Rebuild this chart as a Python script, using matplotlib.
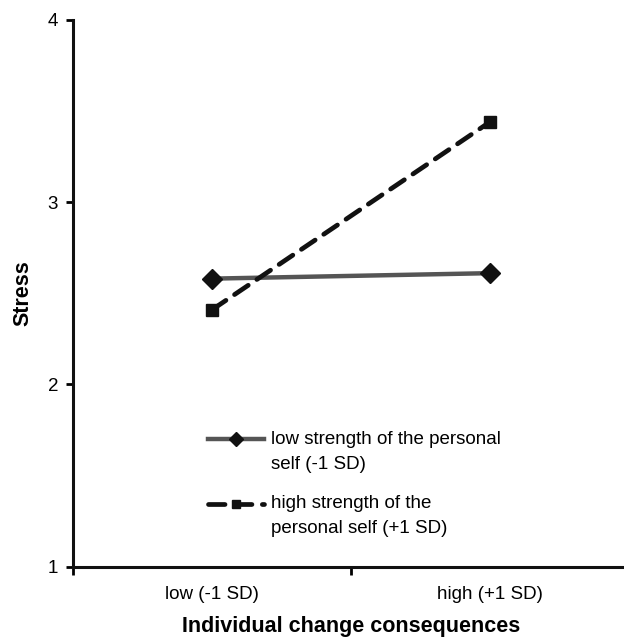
import matplotlib
matplotlib.use("Agg")
import matplotlib.pyplot as plt
from matplotlib.legend_handler import HandlerLine2D

plt.rcParams['font.family'] = ['Liberation Sans', 'DejaVu Sans']

# data
categories = ["low (-1 SD)", "high (+1 SD)"]
low_strength = [2.58, 2.61]
high_strength = [2.41, 3.44]
series_labels = ["low strength of the personal\nself (-1 SD)",
                 "high strength of the\npersonal self (+1 SD)"]
y_ticks = [1, 2, 3, 4]


class FirstLineHandler(HandlerLine2D):
    """Put the legend handle next to the first line of a two line label."""

    def create_artists(self, legend, orig_handle, xdescent, ydescent,
                       width, height, fontsize, trans):
        artists = super().create_artists(legend, orig_handle, xdescent,
                                         ydescent, width, height, fontsize,
                                         trans)
        shift = 0.66 * fontsize
        for a in artists:
            a.set_ydata([y + shift for y in a.get_ydata()])
        return artists


fig = plt.figure(figsize=(6.24, 6.4), dpi=100)
ax = fig.add_axes([0.1175, 0.1146, 0.8905, 0.8545])

x = [1, 2]
l1, = ax.plot(x, low_strength, color="#555555", lw=3.2, marker="D", ms=10,
              mfc="#111111", mec="#111111", label=series_labels[0], zorder=3)
l2, = ax.plot(x, high_strength, color="#111111", lw=3.4, ls=(0, (3.5, 2.2)),
              dash_capstyle="round", marker="s", ms=8, mfc="#111111",
              mec="#111111", label=series_labels[1], zorder=3)

ax.set_xlim(0.5, 2.5)
ax.set_ylim(1, 4)
ax.set_yticks(y_ticks)
ax.set_xticks([0.5, 1.5])
ax.set_xticklabels(["", ""])
ax.set_xticks(x, minor=True)
ax.set_xticklabels(categories, minor=True, fontsize=13.5)
ax.tick_params(axis="x", which="minor", length=0, pad=14)
ax.tick_params(axis="x", which="major", length=6, width=2, direction="out")
ax.tick_params(axis="y", length=5, width=2, labelsize=13.5, pad=6)

for side in ["top", "right"]:
    ax.spines[side].set_visible(False)
for side in ["left", "bottom"]:
    ax.spines[side].set_linewidth(2.2)
    ax.spines[side].set_color("#111111")

ax.set_ylabel("Stress", fontsize=15.5, fontweight="bold", labelpad=10)
ax.set_xlabel("Individual change consequences", fontsize=15.5,
              fontweight="bold", labelpad=9)

leg = ax.legend(loc="upper left", bbox_to_anchor=(0.2424, 0.2485),
                frameon=False, fontsize=13.5, handlelength=3.0,
                handletextpad=0.37, labelspacing=1.2, borderpad=0,
                borderaxespad=0, markerscale=0.75,
                handler_map={l1: FirstLineHandler(), l2: FirstLineHandler()})
for t in leg.get_texts():
    t.set_linespacing(1.6)

fig.savefig("out.png", dpi=100)
